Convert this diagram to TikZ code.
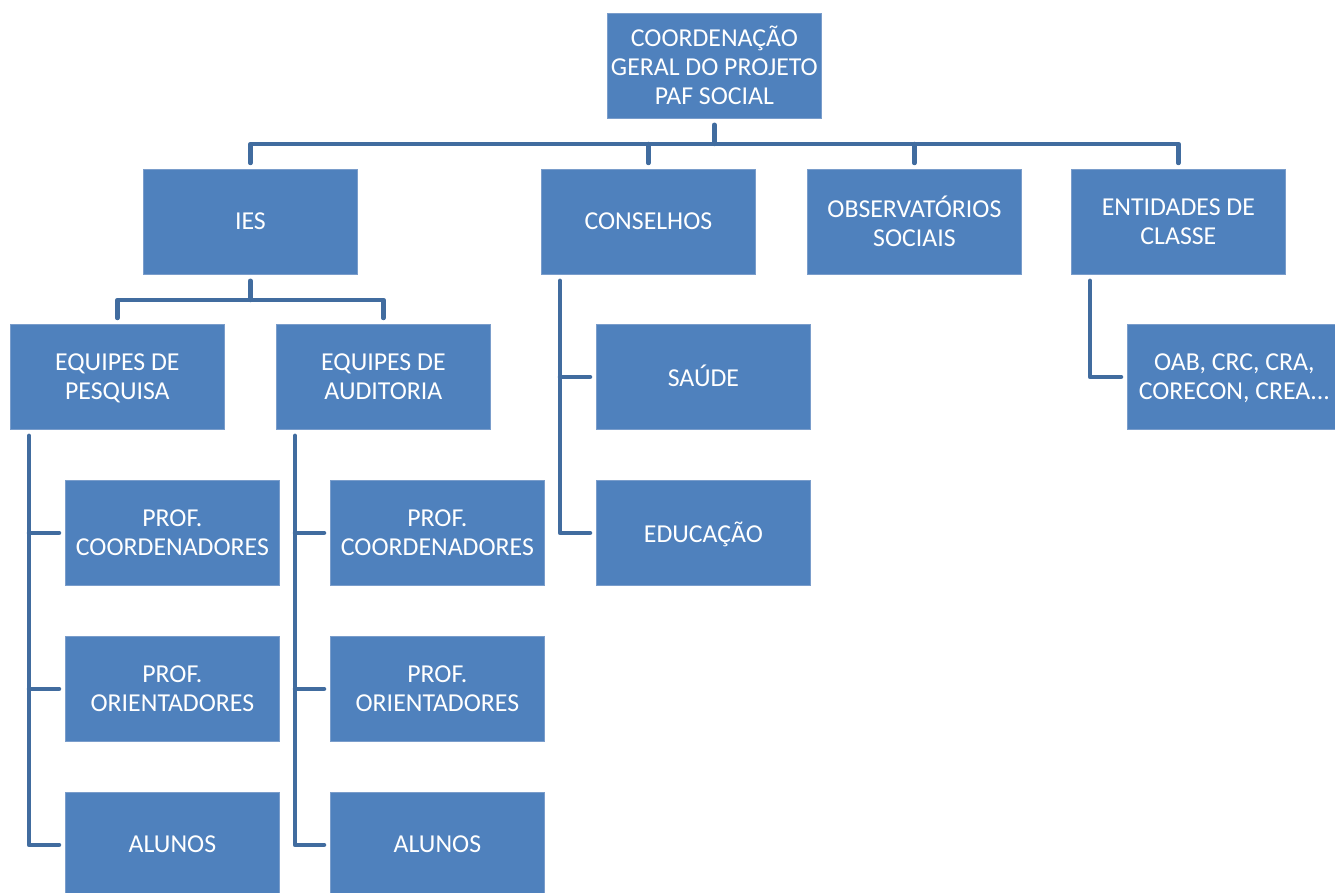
\documentclass[tikz,border=0pt]{standalone}
\usepackage{fontspec}
\setmainfont{Carlito}
\definecolor{boxfill}{HTML}{4F81BD}
\definecolor{boxedge}{HTML}{7A9DCB}
\definecolor{conncol}{HTML}{416C9F}
\begin{document}
\begin{tikzpicture}[x=1pt,y=-1pt,
  orgbox/.style={rectangle, anchor=north west, minimum width=214pt, minimum height=105pt,
    inner sep=0pt, text depth=1.5pt, fill=boxfill, draw=boxedge, line width=0.8pt, text=white, align=center,
    font=\fontsize{25.8}{29}\selectfont},
  conn/.style={draw=conncol, line width=4.5pt, line join=round, line cap=round}]
\useasboundingbox (0,0) rectangle (1335,893);
\begin{scope}
\clip (0,0) rectangle (1335,893);
\node[orgbox] (top) at (607,13) {COORDENAÇÃO\\GERAL DO PROJETO\\PAF SOCIAL};
\node[orgbox] (ies) at (143,169) {IES};
\node[orgbox] (cons) at (541,169) {CONSELHOS};
\node[orgbox] (obs) at (807,169) {OBSERVATÓRIOS\\SOCIAIS};
\node[orgbox] (ent) at (1071,169) {ENTIDADES DE\\CLASSE};
\node[orgbox] (pesq) at (10,324) {EQUIPES DE\\PESQUISA};
\node[orgbox] (aud) at (276,324) {EQUIPES DE\\AUDITORIA};
\node[orgbox] (saude) at (596,324) {SAÚDE};
\node[orgbox] (educ) at (596,480) {EDUCAÇÃO};
\node[orgbox] (oab) at (1127,324) {OAB, CRC, CRA,\\CORECON, CREA...};
\node[orgbox] (pca) at (65,480) {PROF.\\COORDENADORES};
\node[orgbox] (poa) at (65,636) {PROF.\\ORIENTADORES};
\node[orgbox] (ala) at (65,792) {ALUNOS};
\node[orgbox] (pcb) at (330,480) {PROF.\\COORDENADORES};
\node[orgbox] (pob) at (330,636) {PROF.\\ORIENTADORES};
\node[orgbox] (alb) at (330,792) {ALUNOS};
\end{scope}
% top level
\coordinate (bar1) at (0,144);
\draw[conn] ([yshift=-6pt]top.south) -- (top.south |- bar1);
\draw[conn] ([yshift=6pt]ies.north) |- (ent.north |- bar1) -- ([yshift=6pt]ent.north);
\draw[conn] ([yshift=6pt]cons.north) -- (cons.north |- bar1);
\draw[conn] ([yshift=6pt]obs.north) -- (obs.north |- bar1);
% IES
\coordinate (bar2) at (0,300);
\draw[conn] ([yshift=-6pt]ies.south) -- (ies.south |- bar2);
\draw[conn] ([yshift=6pt]pesq.north) |- (aud.north |- bar2) -- ([yshift=6pt]aud.north);
% Pesquisa
\coordinate (vp) at ([shift={(19pt,-6pt)}]pesq.south west);
\draw[conn] (vp) |- ([xshift=-6pt]ala.west);
\draw[conn] (vp |- pca.west) -- ([xshift=-6pt]pca.west);
\draw[conn] (vp |- poa.west) -- ([xshift=-6pt]poa.west);
% Auditoria
\coordinate (va) at ([shift={(19pt,-6pt)}]aud.south west);
\draw[conn] (va) |- ([xshift=-6pt]alb.west);
\draw[conn] (va |- pcb.west) -- ([xshift=-6pt]pcb.west);
\draw[conn] (va |- pob.west) -- ([xshift=-6pt]pob.west);
% Conselhos
\coordinate (vc) at ([shift={(19pt,-6pt)}]cons.south west);
\draw[conn] (vc) |- ([xshift=-6pt]educ.west);
\draw[conn] (vc |- saude.west) -- ([xshift=-6pt]saude.west);
% Entidades
\coordinate (ve) at ([shift={(19pt,-6pt)}]ent.south west);
\draw[conn] (ve) |- ([xshift=-6pt]oab.west);
\end{tikzpicture}
\end{document}
